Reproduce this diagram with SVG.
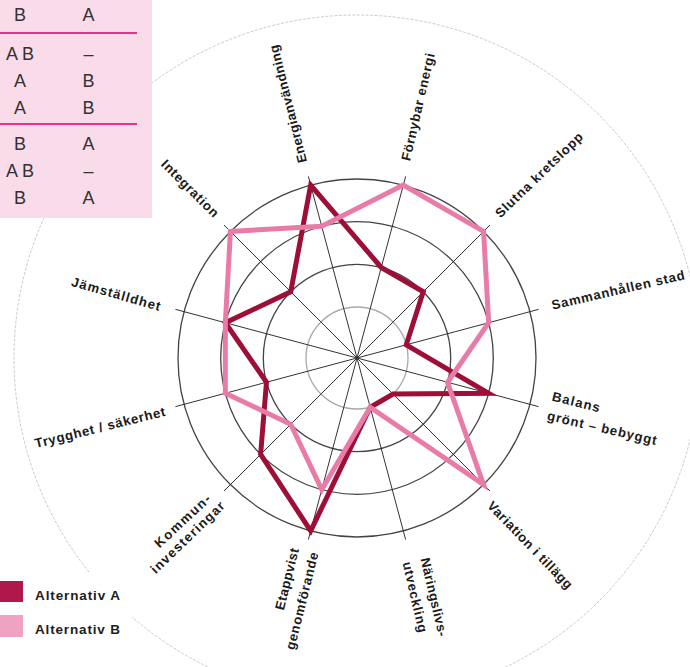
<svg xmlns="http://www.w3.org/2000/svg" width="690" height="667" viewBox="0 0 690 667">
  <style>
    .ring { fill: none; stroke: #444; stroke-width: 1.3; }
    .ring.inner { stroke: #a9a9a9; }
    .spoke { stroke: #333; stroke-width: 1; }
    .series { fill: none; stroke-width: 5; stroke-linejoin: miter; stroke-miterlimit: 6; }
    .alt-a { stroke: #9e0f38; }
    .alt-b { stroke: #e97ba8; }
    .lbl { font-family: "Liberation Sans", Arial, sans-serif; font-weight: bold; font-size: 13.2px; fill: #1a1a1a; text-anchor: middle; }
    .tbl { font-family: "Liberation Sans", Arial, sans-serif; font-size: 18px; fill: #333; text-anchor: middle; }
    .rule { stroke: #e2338a; stroke-width: 1.8; }
    .leg { font-family: "Liberation Sans", Arial, sans-serif; font-weight: bold; font-size: 13.5px; fill: #1e1e1e; }
  </style>

  <rect width="690" height="667" fill="#fff"/>

  <!-- faint outer circle -->
  <circle cx="357" cy="358" r="343" fill="none" stroke="#bcbcbc" stroke-width="0.8" stroke-dasharray="3 1.5"/>

  <!-- rings of the radar chart -->
  <g id="grid">
    <circle class="ring inner" cx="357" cy="358" r="51"/>
    <circle class="ring" cx="357" cy="358" r="93.7"/>
    <circle class="ring" cx="357" cy="358" r="136.3"/>
    <circle class="ring" cx="357" cy="358" r="179"/>
  </g>

  <!-- axes (each line runs through the centre to the opposite axis) -->
  <g id="connectors">
    <line class="spoke" x1="308.35" y1="176.41" x2="405.65" y2="539.59"/>
    <line class="spoke" x1="405.65" y1="176.41" x2="308.35" y2="539.59"/>
    <line class="spoke" x1="489.94" y1="225.06" x2="224.06" y2="490.94"/>
    <line class="spoke" x1="538.59" y1="309.35" x2="175.41" y2="406.65"/>
    <line class="spoke" x1="538.59" y1="406.65" x2="175.41" y2="309.35"/>
    <line class="spoke" x1="489.94" y1="490.94" x2="224.06" y2="225.06"/>
  </g>

  <!-- data series -->
  <g id="series-a">
    <polygon class="series alt-a" points="310.67,185.10 381.25,267.49 423.26,291.74 406.26,344.80 488.65,393.27 393.06,394.06 370.20,407.26 310.67,530.90 260.62,454.38 266.49,382.25 225.35,322.73 290.74,291.74"/>
  </g>
  <g id="series-b">
    <polygon class="series alt-b" points="321.73,226.35 403.33,185.10 483.57,231.43 488.65,322.73 447.51,382.25 483.57,484.57 370.20,407.26 321.73,489.65 290.74,424.26 225.35,393.27 225.35,322.73 230.43,231.43"/>
  </g>

  <!-- axis labels -->
  <g id="label-energianvandning"><text class="lbl" dy=".34em" textLength="121" transform="translate(288,104) rotate(-104)">Energianvändning</text></g>
  <g id="label-fornybar"><text class="lbl" dy=".34em" textLength="110" transform="translate(418,107) rotate(-77)">Förnybar energi</text></g>
  <g id="label-slutna"><text class="lbl" dy=".34em" textLength="116" transform="translate(539,175) rotate(-44)">Slutna kretslopp</text></g>
  <g id="label-sammanhallen"><text class="lbl" dy=".34em" textLength="136" transform="translate(618,290) rotate(-13)">Sammanhållen stad</text></g>
  <g id="label-balans">
    <text class="lbl" dy=".34em" textLength="49" transform="translate(576,402) rotate(14)">Balans</text>
    <text class="lbl" dy=".34em" textLength="112" transform="translate(602,428) rotate(13)">grönt – bebyggt</text>
  </g>
  <g id="label-variation"><text class="lbl" dy=".34em" textLength="116" transform="translate(530,545) rotate(46)">Variation i tillägg</text></g>
  <g id="label-naringsliv">
    <text class="lbl" dy=".34em" textLength="80" transform="translate(434,597) rotate(77)">Näringslivs-</text>
    <text class="lbl" dy=".34em" textLength="72" transform="translate(415,597) rotate(77)">utveckling</text>
  </g>
  <g id="label-etappvist">
    <text class="lbl" dy=".34em" textLength="63" transform="translate(287,579) rotate(-76)">Etappvist</text>
    <text class="lbl" dy=".34em" textLength="100" transform="translate(302,601) rotate(-76)">genomförande</text>
  </g>
  <g id="label-kommun">
    <text class="lbl" dy=".34em" textLength="71" transform="translate(182.5,521) rotate(-43)">Kommun-</text>
    <text class="lbl" dy=".34em" textLength="97" transform="translate(187.5,537.5) rotate(-44)">investeringar</text>
  </g>
  <g id="label-trygghet"><text class="lbl" dy=".34em" textLength="134" transform="translate(100,427.5) rotate(-14)">Trygghet / säkerhet</text></g>
  <g id="label-jamstalldhet"><text class="lbl" dy=".34em" textLength="92" transform="translate(116,294) rotate(16)">Jämställdhet</text></g>
  <g id="label-integration"><text class="lbl" dy=".34em" textLength="75" transform="translate(190,188.4) rotate(45)">Integration</text></g>

  <!-- comparison table -->
  <g id="table">
    <rect x="0" y="0" width="152" height="218" fill="#fadbe9"/>
    <line class="rule" x1="0" y1="33" x2="137" y2="33"/>
    <line class="rule" x1="0" y1="124" x2="137" y2="124"/>
    <text class="tbl" x="20" y="21">B</text><text class="tbl" x="88.5" y="21">A</text>
    <text class="tbl" x="20" y="59.5">A B</text><text class="tbl" x="88.5" y="59.5">–</text>
    <text class="tbl" x="20" y="86.5">A</text><text class="tbl" x="88.5" y="86.5">B</text>
    <text class="tbl" x="20" y="113.5">A</text><text class="tbl" x="88.5" y="113.5">B</text>
    <text class="tbl" x="20" y="149.5">B</text><text class="tbl" x="88.5" y="149.5">A</text>
    <text class="tbl" x="20" y="177">A B</text><text class="tbl" x="88.5" y="177">–</text>
    <text class="tbl" x="20" y="204">B</text><text class="tbl" x="88.5" y="204">A</text>
  </g>

  <!-- legend -->
  <g id="legend">
    <rect x="0" y="572" width="132" height="74" fill="#fff"/>
    <rect x="0" y="581" width="23" height="21" fill="#b0174a"/>
    <text class="leg" x="35" y="600" textLength="85">Alternativ A</text>
    <rect x="0" y="615" width="23" height="22" fill="#f0a2c2"/>
    <text class="leg" x="35" y="634" textLength="85">Alternativ B</text>
  </g>
</svg>
